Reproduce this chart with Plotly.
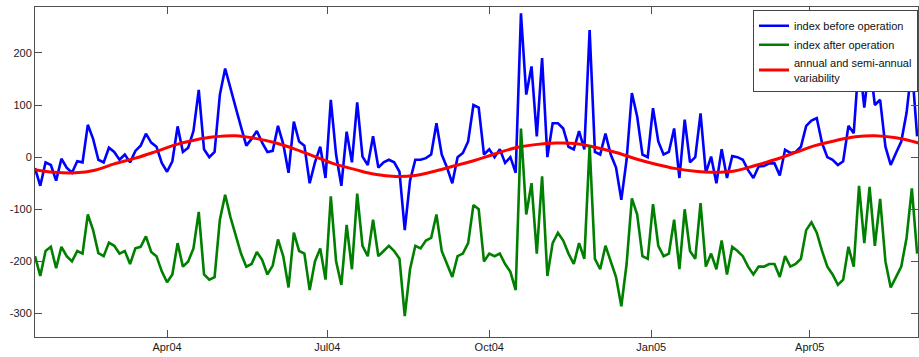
import pandas as pd
import plotly.graph_objects as go

# ---- data ----
start_date = "2004-01-17"
n_days_step = "3D"

before_operation = [
    -21, -55, -10, -15, -45, -3, -20, -30, -8, -10,
    62, 35, -5, -10, 18, 10, -5, 5, -10, 12,
    22, 45, 28, 20, -11, -28, -8, 59, 10, 18,
    50, 129, 15, 0, 10, 120, 170, 130, 95, 58,
    22, 35, 50, 28, 10, 12, 60, 25, -30, 68,
    30, 22, -50, -10, 20, -40, 110, 5, -55, 49,
    -10, 105, 1, -15, 40, -20, -10, -5, -10, -28,
    -140, -45, -5, -5, -2, 5, 65, 5, -20, -50,
    0, 8, 30, 100, 95, 5, 15, 0, 15, -11,
    0, -30, 276, 120, 174, 40, 190, 0, 65, 65,
    55, 20, 15, 50, 15, 244, 10, 5, 45, 5,
    -20, -82, -5, 123, 78, 5, 0, 94, 30, 5,
    10, 55, -40, 72, -10, 0, 84, -30, 1, -50,
    15, -40, 2, 0, -5, -25, -40, -18, -17, -12,
    -12, -35, 14, 8, 10, 20, 60, 70, 75, 27,
    0, -5, -15, -8, 60, 46, 190, 95, 185, 100,
    110, 20, -15, 8, 30, 85, 175, 40,
]

after_operation = [
    -190, -228, -180, -172, -213, -172, -190, -200, -180, -185,
    -110, -140, -184, -190, -164, -170, -185, -180, -205, -175,
    -172, -152, -182, -190, -219, -240, -225, -165, -210, -200,
    -175, -105, -225, -235, -230, -120, -72, -115, -150, -185,
    -210, -205, -182, -197, -225, -208, -158, -190, -250, -145,
    -180, -185, -255, -200, -175, -235, -75, -200, -245, -130,
    -215, -70, -170, -190, -120, -190, -180, -170, -180, -195,
    -305, -215, -170, -175, -160, -155, -110, -180, -205, -230,
    -190, -185, -165, -92, -100, -200, -185, -190, -185, -205,
    -220, -255, 55, -110, -50, -185, -37, -228, -165, -145,
    -160, -185, -205, -165, -195, 22, -195, -215, -170, -200,
    -230, -286, -205, -79, -110, -190, -195, -90, -170, -190,
    -185, -120, -215, -100, -180, -195, -88, -210, -185, -215,
    -160, -225, -172, -180, -190, -210, -225, -210, -210, -205,
    -205, -230, -190, -210, -205, -195, -140, -125, -145, -180,
    -210, -225, -245, -235, -172, -210, -55, -165, -57, -170,
    -80, -200, -250, -230, -210, -155, -60, -185,
]

seasonal_dates = [
    "2004-01-17", "2004-01-28", "2004-02-09", "2004-02-20", "2004-03-02",
    "2004-03-14", "2004-03-25", "2004-04-06", "2004-04-17", "2004-04-28",
    "2004-05-10", "2004-05-21", "2004-06-01", "2004-06-13", "2004-06-24",
    "2004-07-05", "2004-07-17", "2004-07-28", "2004-08-09", "2004-08-20",
    "2004-08-31", "2004-09-12", "2004-09-23", "2004-10-04", "2004-10-16",
    "2004-10-27", "2004-11-08", "2004-11-19", "2004-11-30", "2004-12-12",
    "2004-12-23", "2005-01-03", "2005-01-15", "2005-01-26", "2005-02-06",
    "2005-02-18", "2005-03-01", "2005-03-13", "2005-03-24", "2005-04-04",
    "2005-04-16", "2005-04-27", "2005-05-08", "2005-05-20", "2005-06-02",
]
seasonal_values = [
    -24, -29, -30, -25, -13,
    -2, 10, 24, 33, 39,
    41, 36, 28, 15, 1,
    -13, -24, -33, -37, -35,
    -27, -16, -6, 6, 18,
    24, 27, 26, 19, 9,
    -3, -13, -22, -27, -29,
    -26, -16, -4, 9, 22,
    32, 39, 41, 37, 27,
]

x_tick_dates = ["2004-04-01", "2004-07-01", "2004-10-01", "2005-01-01", "2005-04-01"]
x_tick_labels = ["Apr04", "Jul04", "Oct04", "Jan05", "Apr05"]
y_tick_values = [-300, -200, -100, 0, 100, 200]
y_tick_labels = ["-300", "-200", "-100", "0", "100", "200"]

dates = pd.date_range(start_date, periods=len(before_operation), freq=n_days_step)

FONT = "Liberation Sans, Arial, Helvetica, sans-serif"
AX = "#505050"

fig = go.Figure()
fig.add_trace(go.Scatter(
    x=dates, y=before_operation, mode="lines", name="index before operation",
    line=dict(color="#0000FF", width=2.6), legendrank=1,
))
fig.add_trace(go.Scatter(
    x=pd.to_datetime(seasonal_dates), y=seasonal_values, mode="lines",
    name="annual and semi-annual<br>variability",
    line=dict(color="#FF0000", width=3, shape="spline"), legendrank=3,
))
fig.add_trace(go.Scatter(
    x=dates, y=after_operation, mode="lines", name="index after operation",
    line=dict(color="#007F00", width=2.6), legendrank=2,
))

fig.update_layout(
    template="none",
    width=919, height=357,
    margin=dict(l=35, r=1, t=7, b=20),
    paper_bgcolor="white", plot_bgcolor="white",
    font=dict(family=FONT, size=11, color="#1a1a1a"),
    showlegend=True,
    legend=dict(
        x=1, xanchor="right", y=0.99, yanchor="top",
        bgcolor="white", bordercolor="#444444", borderwidth=1,
        font=dict(family=FONT, size=11, color="#111111"),
        itemwidth=30, tracegroupgap=0,
    ),
    xaxis=dict(
        range=["2004-01-17", "2005-06-01 12:00"],
        tickvals=pd.to_datetime(x_tick_dates), ticktext=x_tick_labels,
        ticks="inside", ticklen=7, tickcolor=AX, tickwidth=1,
        showline=True, linecolor=AX, linewidth=1, mirror="ticks",
        showgrid=False, zeroline=False, automargin=False,
        tickfont=dict(family=FONT, size=11, color="#1a1a1a"),
    ),
    yaxis=dict(
        range=[-345, 288],
        tickvals=y_tick_values, ticktext=y_tick_labels,
        ticks="inside", ticklen=7, tickcolor=AX, tickwidth=1,
        showline=True, linecolor=AX, linewidth=1, mirror="ticks",
        showgrid=False, zeroline=False, automargin=False,
        tickfont=dict(family=FONT, size=11, color="#1a1a1a"),
    ),
)

fig.write_html(
    "out.html",
    config={"displayModeBar": False},
    post_script="document.body.style.margin='0';document.body.style.overflow='hidden';",
)
